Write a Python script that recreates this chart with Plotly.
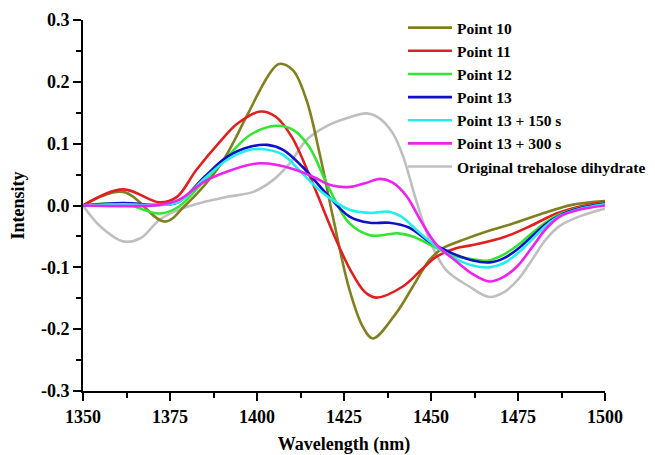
import plotly.graph_objects as go

# ---- data ----
p10_x = [1350, 1361.5, 1373.5, 1379, 1389.5, 1397, 1403, 1406.3, 1410.3, 1414.2, 1418, 1421.8, 1426.6, 1430.4, 1433.3, 1440, 1444.8, 1449.6, 1453.4, 1459, 1466, 1472, 1481, 1490.5, 1500]
p10_y = [0, 0.022, -0.026, -0.002, 0.066, 0.144, 0.208, 0.229, 0.219, 0.171, 0.084, -0.018, -0.137, -0.196, -0.215, -0.174, -0.131, -0.088, -0.069, -0.056, -0.042, -0.032, -0.015, 0.001, 0.007]

p11_x = [1350, 1361.5, 1372, 1377, 1382.5, 1389, 1394.5, 1401, 1405.3, 1410, 1416, 1422.3, 1426.8, 1431, 1434.2, 1441.9, 1447.6, 1451.5, 1457.2, 1462, 1471.5, 1479, 1486, 1492.5, 1500]
p11_y = [0, 0.026, 0.005, 0.014, 0.057, 0.101, 0.133, 0.152, 0.144, 0.111, 0.036, -0.050, -0.104, -0.140, -0.149, -0.131, -0.102, -0.083, -0.069, -0.064, -0.050, -0.032, -0.013, -0.002, 0.006]

p12_x = [1350, 1361.5, 1372, 1377.5, 1385, 1391.5, 1398, 1405.5, 1410.5, 1415, 1420.5, 1426.6, 1432.4, 1436, 1440.5, 1444.8, 1449.6, 1456, 1462, 1466.5, 1471, 1475, 1479, 1483, 1487, 1492.5, 1500]
p12_y = [0, 0.003, -0.013, -0.002, 0.041, 0.079, 0.114, 0.129, 0.122, 0.095, 0.030, -0.029, -0.048, -0.048, -0.045, -0.050, -0.063, -0.080, -0.087, -0.089, -0.079, -0.064, -0.045, -0.027, -0.014, -0.004, 0.004]

p13_x = [1350, 1361.5, 1372, 1377.5, 1385, 1391.5, 1398, 1403, 1407.5, 1413, 1419, 1426.6, 1432.4, 1438, 1443.8, 1449.6, 1456, 1462, 1466.8, 1471, 1475, 1479, 1483, 1487, 1492.5, 1500]
p13_y = [0, 0.004, 0.001, 0.006, 0.047, 0.079, 0.095, 0.098, 0.090, 0.063, 0.025, -0.018, -0.028, -0.028, -0.036, -0.059, -0.077, -0.089, -0.092, -0.085, -0.070, -0.050, -0.030, -0.016, -0.005, 0.003]

p150_x = [1350, 1361.5, 1372, 1377.5, 1385, 1391.5, 1398, 1402, 1407.5, 1413, 1419, 1426.6, 1432.4, 1438, 1441.5, 1446.5, 1451, 1456, 1462, 1466.8, 1471, 1475, 1479, 1483, 1487, 1492.5, 1500]
p150_y = [0, 0.002, 0.001, 0.006, 0.044, 0.074, 0.090, 0.091, 0.082, 0.052, 0.020, -0.007, -0.012, -0.010, -0.018, -0.043, -0.064, -0.083, -0.097, -0.100, -0.093, -0.077, -0.055, -0.033, -0.017, -0.006, 0.002]

p300_x = [1350, 1361.5, 1372, 1377.5, 1385, 1391.5, 1400, 1405.5, 1411.5, 1417, 1421, 1426.6, 1431, 1435.5, 1439, 1443, 1447, 1451.5, 1457.2, 1462, 1466.8, 1471, 1475, 1479, 1483, 1487, 1492.5, 1500]
p300_y = [0, -0.001, 0.001, 0.009, 0.039, 0.055, 0.068, 0.066, 0.057, 0.044, 0.033, 0.030, 0.036, 0.043, 0.037, 0.015, -0.024, -0.063, -0.090, -0.111, -0.123, -0.115, -0.097, -0.068, -0.038, -0.018, -0.007, 0.0]

orig_x = [1350, 1355, 1361.5, 1366.5, 1372, 1377.5, 1385, 1391.5, 1398.9, 1404.6, 1409.4, 1414.2, 1419.9, 1425.7, 1431.4, 1435.2, 1439, 1442, 1445.7, 1449.6, 1454.3, 1461, 1466.8, 1471, 1475, 1479, 1483, 1487, 1492.5, 1500]
orig_y = [0, -0.034, -0.058, -0.053, -0.023, -0.007, 0.006, 0.014, 0.022, 0.041, 0.068, 0.106, 0.128, 0.141, 0.149, 0.141, 0.117, 0.079, 0.009, -0.056, -0.104, -0.131, -0.148, -0.140, -0.120, -0.088, -0.055, -0.033, -0.018, -0.005]

series = [
    ("Point 10", p10_x, p10_y, "#808020"),
    ("Point 11", p11_x, p11_y, "#e02020"),
    ("Point 12", p12_x, p12_y, "#33e533"),
    ("Point 13", p13_x, p13_y, "#1010c8"),
    ("Point 13 + 150 s", p150_x, p150_y, "#22eeee"),
    ("Point 13 + 300 s", p300_x, p300_y, "#ee22ee"),
    ("Original trehalose dihydrate", orig_x, orig_y, "#bfbfbf"),
]

x_ticks = [1350, 1375, 1400, 1425, 1450, 1475, 1500]
y_ticks = [-0.3, -0.2, -0.1, 0.0, 0.1, 0.2, 0.3]

FONT = "Liberation Serif"

fig = go.Figure()
# draw grey first so coloured lines sit on top, but keep legend order
order = [6, 0, 1, 2, 3, 4, 5]
for i in order:
    name, xs, ys, col = series[i]
    fig.add_trace(go.Scatter(
        x=xs, y=ys, mode="lines", name=name,
        line=dict(color=col, width=2.6, shape="spline", smoothing=1.0),
        legendrank=i + 1,
    ))

fig.update_layout(
    width=647, height=447,
    margin=dict(l=75, r=50, t=12, b=64, autoexpand=False),
    paper_bgcolor="white", plot_bgcolor="white",
    font=dict(family=FONT, size=18, color="black", weight="bold"),
    showlegend=True,
    legend=dict(
        x=0.613, y=1.024, xanchor="left", yanchor="top",
        bgcolor="rgba(0,0,0,0)", borderwidth=0,
        font=dict(family=FONT, size=15.5, color="black", weight="bold"),
        itemwidth=44,
    ),
)
fig.update_xaxes(
    range=[1350, 1500], tickvals=x_ticks, ticktext=[str(v) for v in x_ticks],
    showline=True, linecolor="black", linewidth=2, mirror=False,
    ticks="outside", ticklen=8, tickwidth=2, tickcolor="black",
    minor=dict(dtick=12.5, tick0=1350, ticks="outside", ticklen=5, tickwidth=2, tickcolor="black"),
    showgrid=False, zeroline=False, automargin=False,
    tickfont=dict(family=FONT, size=18, weight="bold"),
    title=dict(text="Wavelength (nm)", font=dict(family=FONT, size=18, weight="bold"), standoff=14),
)
fig.update_yaxes(
    range=[-0.3, 0.3], tickvals=y_ticks, ticktext=[f"{v:.1f}" for v in y_ticks],
    showline=True, linecolor="black", linewidth=2, mirror=False,
    ticks="outside", ticklen=8, tickwidth=2, tickcolor="black",
    minor=dict(dtick=0.05, tick0=-0.3, ticks="outside", ticklen=5, tickwidth=2, tickcolor="black"),
    showgrid=False, zeroline=False, automargin=False,
    tickfont=dict(family=FONT, size=18, weight="bold"),
    title=dict(text="Intensity", font=dict(family=FONT, size=18, weight="bold"), standoff=14),
)

fig.write_html("out.html")
